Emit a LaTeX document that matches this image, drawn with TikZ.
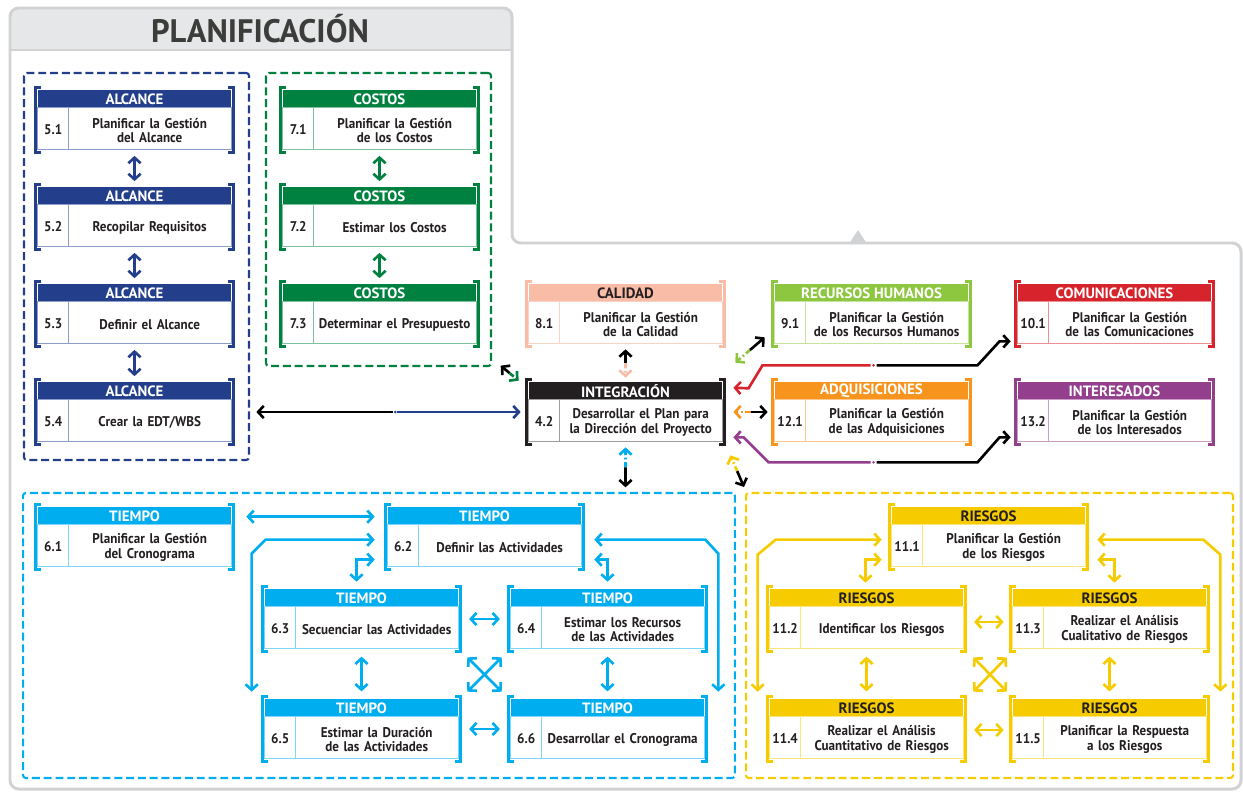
\documentclass[tikz,border=0pt]{standalone}
\usepackage{fontspec}
\setmainfont{PT Sans}
\newfontfamily\cuerpo{PT Sans}[FakeStretch=0.93]
\usetikzlibrary{calc,arrows.meta}

\definecolor{alcance}{HTML}{233E8B}
\definecolor{alcanceL}{HTML}{8C9CCB}
\definecolor{costos}{HTML}{008140}
\definecolor{costosL}{HTML}{7FC09F}
\definecolor{calidad}{HTML}{F9BCA6}
\definecolor{calidadL}{HTML}{FBD3C4}
\definecolor{integra}{HTML}{231F20}
\definecolor{integraL}{HTML}{9D9D9D}
\definecolor{rrhh}{HTML}{8DC63F}
\definecolor{rrhhL}{HTML}{C5E29F}
\definecolor{comunica}{HTML}{D7232B}
\definecolor{comunicaL}{HTML}{EB9195}
\definecolor{adquiere}{HTML}{F7941D}
\definecolor{adquiereL}{HTML}{FBC98E}
\definecolor{interes}{HTML}{943E8E}
\definecolor{interesL}{HTML}{C99EC6}
\definecolor{tiempo}{HTML}{00ADEE}
\definecolor{tiempoL}{HTML}{7FD6F6}
\definecolor{riesgo}{HTML}{F6CC00}
\definecolor{riesgoL}{HTML}{FAE57F}
\definecolor{textoc}{HTML}{231F20}
\definecolor{marcogris}{HTML}{D1D2D4}
\definecolor{tabgris}{HTML}{E6E7E8}
\definecolor{titulo}{HTML}{3C3C3B}

\tikzset{
	procnode/.style={minimum width=3.94cm,minimum height=1.28cm,inner sep=0pt},
	hdrtext/.style={font=\bfseries\fontsize{8.5}{9}\selectfont,inner sep=0pt},
	numtext/.style={font=\cuerpo\bfseries\fontsize{8}{8}\selectfont,text=textoc,inner sep=0pt},
	bodytext/.style={font=\cuerpo\bfseries\fontsize{8}{8.2}\selectfont,text=textoc,align=center,text width=3.1cm,inner sep=0pt},
	bracket/.style={line width=1.6pt},
	flecha/.style={line width=1.5pt,<->},
	mitad/.style={line width=1.5pt,->},
	grupo/.style={dash pattern=on 4.5pt off 2.2pt,line width=1.2pt,rounded corners=1.5pt,inner sep=0pt},
	punteada/.style={dash pattern=on 3pt off 1.5pt on 1pt off 1.5pt},
}

% [color texto cabecera]{nombre}{posicion}{color}{color claro}{cabecera}{numero}{texto}
\newcommand{\proceso}[8][white]{%
	\node[procnode] (#2) at #3 {};
	\fill[#4] ($(#2.north west)+(2,2)$) rectangle ($(#2.north east)+(-2,20)$);
	\node[hdrtext,text=#1] at ($(#2.north)+(0,11.5)$) {#6};
	\draw[#5,line width=0.5pt] ($(#2.north west)+(2,20)$) rectangle ($(#2.south east)+(-2,-3)$);
	\draw[#5,line width=0.5pt] ($(#2.north west)+(33,20)$) -- ($(#2.south west)+(33,-3)$);
	\node[numtext] at ($(#2.west)+(17.5,10)$) {#7};
	\node[bodytext] at ($(#2.west)+(114,10.5)$) {#8};
	\draw[bracket,#4] ($(#2.north west)+(5,0)$) -- (#2.north west) -- (#2.south west) -- ++(5,0);
	\draw[bracket,#4] ($(#2.north east)+(-5,0)$) -- (#2.north east) -- (#2.south east) -- ++(-5,0);
}

\begin{document}
\begin{tikzpicture}[x=0.02cm,y=-0.02cm,>={Straight Barb[length=3.2pt,width=7pt]}]
	\useasboundingbox (0,0) rectangle (1243,791);
	% marco general
	\fill[tabgris] (11,50) [rounded corners=4pt] -- (11,9) -- (511,9) [sharp corners] -- (511,50) -- cycle;
	\draw[marcogris,line width=1.7pt,rounded corners=5pt] (10,789) -- (10,8) -- (512,8) -- (512,243) -- (1241,243) -- (1241,789) -- cycle;
	\draw[marcogris,line width=1.4pt] (11,50) -- (511,50);
	\fill[marcogris] (849,244) -- (858,230) -- (867,244) -- cycle;
	\node[font=\bfseries\fontsize{18.5}{18}\selectfont,text=titulo] (titulo) at (260,29) {PLANIFICACIÓN};
	
	% grupos
	\node[grupo,draw=alcance,minimum width=4.5cm,minimum height=7.74cm] (gA) at (136.5,266.5) {};
	\node[grupo,draw=costos,minimum width=4.5cm,minimum height=5.86cm] (gC) at (378.5,219.5) {};
	\node[grupo,draw=tiempo,minimum width=14.24cm,minimum height=5.7cm] (gT) at (379,635.5) {};
	\node[grupo,draw=riesgo,minimum width=9.74cm,minimum height=5.7cm] (gR) at (989.5,635.5) {};
	
	% alcance
	\proceso{a51}{(134.5,120)}{alcance}{alcanceL}{ALCANCE}{5.1}{Planificar la Gestión\\del Alcance}
	\proceso{a52}{(134.5,217)}{alcance}{alcanceL}{ALCANCE}{5.2}{Recopilar Requisitos}
	\proceso{a53}{(134.5,314)}{alcance}{alcanceL}{ALCANCE}{5.3}{Definir el Alcance}
	\proceso{a54}{(134.5,412)}{alcance}{alcanceL}{ALCANCE}{5.4}{Crear la EDT/WBS}
	% costos
	\proceso{c71}{(379.5,120)}{costos}{costosL}{COSTOS}{7.1}{Planificar la Gestión\\de los Costos}
	\proceso{c72}{(379.5,217)}{costos}{costosL}{COSTOS}{7.2}{Estimar los Costos}
	\proceso{c73}{(379.5,314)}{costos}{costosL}{COSTOS}{7.3}{Determinar el Presupuesto}
	% centro
	\proceso[textoc]{q81}{(625.5,314)}{calidad}{calidadL}{CALIDAD}{8.1}{Planificar la Gestión\\de la Calidad}
	\proceso{i42}{(625.5,412)}{integra}{integraL}{INTEGRACIÓN}{4.2}{Desarrollar el Plan para\\la Dirección del Proyecto}
	\proceso{h91}{(871.5,314)}{rrhh}{rrhhL}{RECURSOS HUMANOS}{9.1}{Planificar la Gestión\\de los Recursos Humanos}
	\proceso{m101}{(1114.5,314)}{comunica}{comunicaL}{COMUNICACIONES}{10.1}{Planificar la Gestión\\de las Comunicaciones}
	\proceso{p121}{(871.5,412)}{adquiere}{adquiereL}{ADQUISICIONES}{12.1}{Planificar la Gestión\\de las Adquisiciones}
	\proceso{s132}{(1114.5,412)}{interes}{interesL}{INTERESADOS}{13.2}{Planificar la Gestión\\de los Interesados}
	% tiempo
	\proceso{t61}{(134.5,537)}{tiempo}{tiempoL}{TIEMPO}{6.1}{Planificar la Gestión\\del Cronograma}
	\proceso{t62}{(484.5,537)}{tiempo}{tiempoL}{TIEMPO}{6.2}{Definir las Actividades}
	\proceso{t63}{(361.5,619)}{tiempo}{tiempoL}{TIEMPO}{6.3}{Secuenciar las Actividades}
	\proceso{t64}{(607.5,619)}{tiempo}{tiempoL}{TIEMPO}{6.4}{Estimar los Recursos\\de las Actividades}
	\proceso{t65}{(361.5,729)}{tiempo}{tiempoL}{TIEMPO}{6.5}{Estimar la Duración\\de las Actividades}
	\proceso{t66}{(607.5,729)}{tiempo}{tiempoL}{TIEMPO}{6.6}{Desarrollar el Cronograma}
	% riesgos
	\proceso[textoc]{r111}{(988.5,537)}{riesgo}{riesgoL}{RIESGOS}{11.1}{Planificar la Gestión\\de los Riesgos}
	\proceso[textoc]{r112}{(866.5,619)}{riesgo}{riesgoL}{RIESGOS}{11.2}{Identificar los Riesgos}
	\proceso[textoc]{r113}{(1109.5,619)}{riesgo}{riesgoL}{RIESGOS}{11.3}{Realizar el Análisis\\Cualitativo de Riesgos}
	\proceso[textoc]{r114}{(866.5,729)}{riesgo}{riesgoL}{RIESGOS}{11.4}{Realizar el Análisis\\Cuantitativo de Riesgos}
	\proceso[textoc]{r115}{(1109.5,729)}{riesgo}{riesgoL}{RIESGOS}{11.5}{Planificar la Respuesta\\a los Riesgos}
	
	% columnas
	\foreach \a/\b in {a51/a52,a52/a53,a53/a54}
		\draw[flecha,alcance,shorten <=2pt,shorten >=2pt] (\a.south) -- (\b.north);
	\foreach \a/\b in {c71/c72,c72/c73}
		\draw[flecha,costos,shorten <=2pt,shorten >=2pt] (\a.south) -- (\b.north);
	
	% integracion
	\coordinate (bm) at ($(a54.east)+(162,0)$);
	\draw[mitad,alcance] ($(bm)+(2,0)$) -- ($(i42.west)+(-6,0)$);
	\draw[mitad] ($(bm)+(-2,0)$) -- ($(a54.east)+(23,0)$);
	\fill[alcance] (bm) circle (0.8pt);
	
	\coordinate (g1) at ($(i42.north west)+(-26,-14)$);
	\coordinate (g2) at ($(i42.north west)+(-8,1)$);
	\draw[mitad] ($(g1)!0.5!(g2)$) -- (g1);
	\draw[mitad,costos,punteada] ($(g1)!0.5!(g2)$) -- (g2);
	
	\coordinate (qm) at ($(q81.south)!0.5!(i42.north)$);
	\draw[mitad] (qm) -- ($(q81.south)+(0,3)$);
	\draw[mitad,calidad,punteada] (qm) -- ($(i42.north)+(0,-2)$);
	
	\coordinate (v1) at ($(i42.north east)+(11,-17)$);
	\coordinate (v2) at ($(h91.south west)+(-8,-9)$);
	\draw[mitad,rrhh,punteada] ($(v1)!0.5!(v2)$) -- (v1);
	\draw[mitad] ($(v1)!0.5!(v2)$) -- (v2);
	
	\coordinate (rm) at ($(h91.south)+(2,19)$);
	\draw[mitad,comunica] ($(rm)+(-3,0)$) -- ++(-108,0) -- ++(-14,23) -- ($(i42.north east)+(9,8)$);
	\draw[mitad] ($(rm)+(3,0)$) -- ++(101,0) -- ++(22,-24) -- ($(m101.south west)+(-5,-5)$);
	\fill[comunica] (rm) circle (0.8pt);
	
	\coordinate (o1) at ($(i42.east)+(9,0)$);
	\coordinate (o2) at ($(p121.west)+(-5,0)$);
	\draw[mitad,adquiere,punteada] ($(o1)!0.5!(o2)$) -- (o1);
	\draw[mitad] ($(o1)!0.5!(o2)$) -- (o2);
	
	\coordinate (pm) at ($(p121.south)+(2,18)$);
	\draw[mitad,interes] ($(pm)+(-3,0)$) -- ++(-102,0) -- ++(-25,-25) -- ($(i42.south east)+(9,-7)$);
	\draw[mitad] ($(pm)+(3,0)$) -- ++(101,0) -- ++(22,-25) -- ($(s132.south west)+(-5,-7)$);
	\fill[interes] (pm) circle (0.8pt);
	
	\coordinate (y1) at ($(i42.south east)+(6,11)$);
	\coordinate (y2) at ($(gR.north west)+(-1,-5)$);
	\draw[mitad,riesgo,punteada] ($(y1)!0.5!(y2)$) -- (y1);
	\draw[mitad] ($(y1)!0.5!(y2)$) -- (y2);
	
	\coordinate (k1) at ($(i42.south)+(0,3)$);
	\coordinate (k2) at ($(i42.south)+(0,43)$);
	\draw[mitad,tiempo,punteada] ($(k1)!0.5!(k2)$) -- (k1);
	\draw[mitad] ($(k1)!0.5!(k2)$) -- (k2);
	
	% tiempo
	\draw[flecha,tiempo] ($(t61.north east)+(13,12)$) -- ($(t62.north west)+(-11,12)$);
	\draw[flecha,tiempo] ($(t62.north west)+(-11,35)$) -- ++(-109,0) -- ++(-14,14) -- ($(t65.north west)+(-11,-5)$);
	\draw[flecha,tiempo] ($(t62.north west)+(-11,55)$) -| ($(t63.north)+(-5,-5)$);
	\draw[flecha,tiempo] ($(t62.north east)+(11,35)$) -- ++(111,0) -- ++(13,14) -- ($(t66.north east)+(12,-5)$);
	\draw[flecha,tiempo] ($(t62.north east)+(11,55)$) -| ($(t64.north)+(0,-5)$);
	\draw[flecha,tiempo,shorten <=5pt,shorten >=5pt] (t63.east) -- (t64.west);
	\draw[flecha,tiempo,shorten <=5pt,shorten >=5pt] (t65.east) -- (t66.west);
	\draw[flecha,tiempo,shorten <=3pt,shorten >=3pt] (t63.south) -- (t65.north);
	\draw[flecha,tiempo,shorten <=3pt,shorten >=3pt] (t64.south) -- (t66.north);
	\draw[flecha,tiempo] ($(t63.south east)+(7,6)$) -- ($(t66.north west)+(-7,-5)$);
	\draw[flecha,tiempo] ($(t64.south west)+(-7,6)$) -- ($(t65.north east)+(7,-5)$);
	
	% riesgos
	\draw[flecha,riesgo] ($(r111.north west)+(-8,35)$) -- ++(-106,0) -- ++(-18,15) -- ($(r114.north west)+(-10,-5)$);
	\draw[flecha,riesgo] ($(r111.north west)+(-8,55)$) -| ($(r112.north)+(-1,-4)$);
	\draw[flecha,riesgo] ($(r111.north east)+(10,35)$) -- ++(106,0) -- ++(17,15) -- ($(r115.north east)+(12,-5)$);
	\draw[flecha,riesgo] ($(r111.north east)+(10,55)$) -| ($(r113.north)+(5,-4)$);
	\draw[flecha,riesgo,shorten <=5pt,shorten >=4pt] ($(r112.east)+(0,3)$) -- ($(r113.west)+(0,3)$);
	\draw[flecha,riesgo,shorten <=5pt,shorten >=4pt] ($(r114.east)+(0,1)$) -- ($(r115.west)+(0,1)$);
	\draw[flecha,riesgo,shorten <=3pt,shorten >=3pt] (r112.south) -- (r114.north);
	\draw[flecha,riesgo,shorten <=3pt,shorten >=3pt] (r113.south) -- (r115.north);
	\draw[flecha,riesgo] ($(r112.south east)+(8,6)$) -- ($(r115.north west)+(-4,-5)$);
	\draw[flecha,riesgo] ($(r113.south west)+(-4,6)$) -- ($(r114.north east)+(8,-5)$);
\end{tikzpicture}
\end{document}
